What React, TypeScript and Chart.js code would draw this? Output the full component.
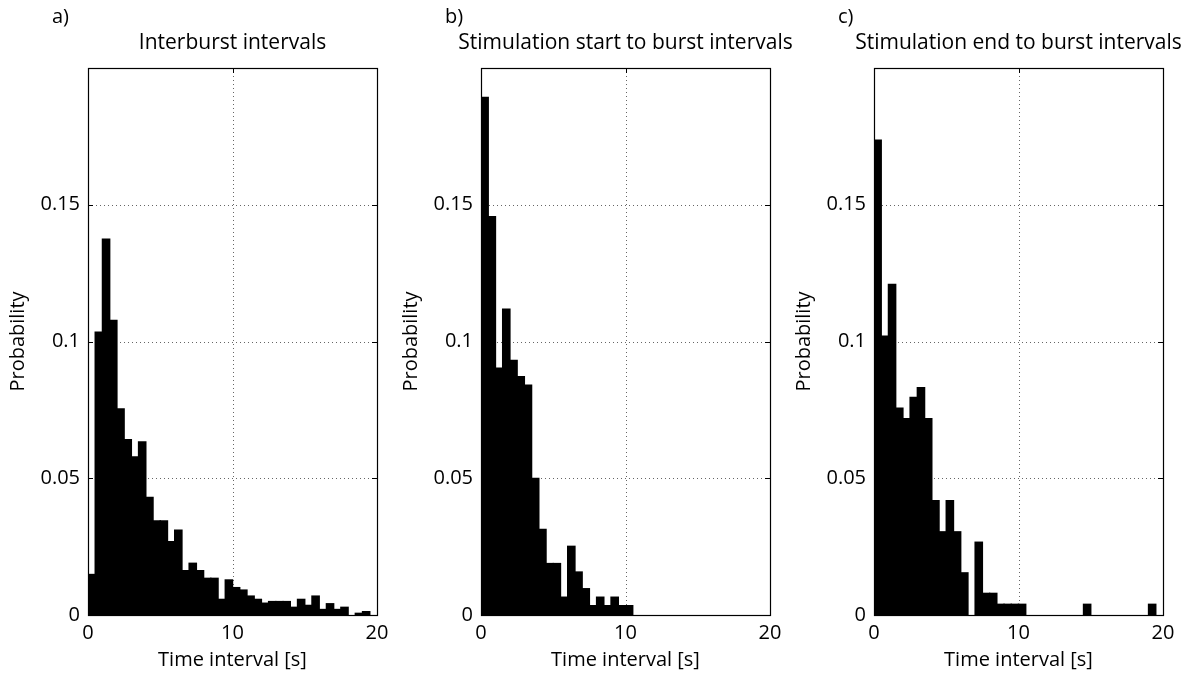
import React, { useEffect, useRef } from "react";
import { Chart, registerables } from "chart.js";

Chart.register(...registerables);

const binCenters = [
  0.25, 0.75, 1.25, 1.75, 2.25, 2.75, 3.25, 3.75, 4.25, 4.75,
  5.25, 5.75, 6.25, 6.75, 7.25, 7.75, 8.25, 8.75, 9.25, 9.75,
  10.25, 10.75, 11.25, 11.75, 12.25, 12.75, 13.25, 13.75, 14.25, 14.75,
  15.25, 15.75, 16.25, 16.75, 17.25, 17.75, 18.25, 18.75, 19.25, 19.75,
];

const interburst = [
  0.0148, 0.1034, 0.1374, 0.1077, 0.0753, 0.0641, 0.0578, 0.0633, 0.043, 0.0344,
  0.0344, 0.0268, 0.031, 0.0162, 0.0189, 0.0162, 0.0134, 0.0134, 0.0057, 0.0128,
  0.01, 0.0091, 0.0069, 0.0057, 0.0043, 0.0049, 0.0049, 0.0049, 0.0028, 0.0057,
  0.0035, 0.0069, 0.002, 0.0041, 0.002, 0.0028, 0, 0.0006, 0.0012, 0,
];

const stimStart = [
  0.1892, 0.1456, 0.0902, 0.1118, 0.0931, 0.0871, 0.084, 0.0499, 0.0313, 0.0188,
  0.0188, 0.0065, 0.0251, 0.0157, 0.0096, 0.0034, 0.0065, 0.0034, 0.0065, 0.0034,
  0.0034, 0, 0, 0, 0, 0, 0, 0, 0, 0,
  0, 0, 0, 0, 0, 0, 0, 0, 0, 0,
];

const stimEnd = [
  0.1736, 0.1019, 0.1209, 0.0756, 0.0718, 0.0795, 0.0831, 0.0718, 0.0418, 0.0304,
  0.0418, 0.0304, 0.0154, 0, 0.0266, 0.0079, 0.0079, 0.0039, 0.0039, 0.0039,
  0.0039, 0, 0, 0, 0, 0, 0, 0, 0, 0.0039,
  0, 0, 0, 0, 0, 0, 0, 0, 0.0039, 0,
];

const xTicks = [0, 10, 20];
const yTicks = [0, 0.05, 0.1, 0.15];
const xGrid = [10];
const yGrid = [0.05, 0.1, 0.15];

const panelLetters = ["a)", "b)", "c)"];
const panelTitles = [
  "Interburst intervals",
  "Stimulation start to burst intervals",
  "Stimulation end to burst intervals",
];
const panelData = [interburst, stimStart, stimEnd];

const FONT = '"Open Sans", "DejaVu Sans", sans-serif';
const CANVAS_W = 414;
const PANEL_STEP = 393;

const decorPlugin = {
  id: "decor",
  beforeDatasetsDraw(chart: any) {
    const { ctx, chartArea } = chart;
    const { left, right, top, bottom } = chartArea;
    const xs = chart.scales.x;
    const ys = chart.scales.y;
    ctx.save();
    ctx.strokeStyle = "#666";
    ctx.lineWidth = 1;
    ctx.setLineDash([1, 3]);
    for (const v of yGrid) {
      const y = Math.round(ys.getPixelForValue(v)) + 0.5;
      ctx.beginPath();
      ctx.moveTo(left, y);
      ctx.lineTo(right, y);
      ctx.stroke();
    }
    for (const v of xGrid) {
      const x = Math.round(xs.getPixelForValue(v)) + 0.5;
      ctx.beginPath();
      ctx.moveTo(x, top);
      ctx.lineTo(x, bottom);
      ctx.stroke();
    }
    ctx.restore();
  },
  afterDraw(chart: any, _args: any, opts: any) {
    const { ctx, chartArea } = chart;
    const { left, right, top, bottom } = chartArea;
    const xs = chart.scales.x;
    const ys = chart.scales.y;
    ctx.save();
    ctx.strokeStyle = "#000";
    ctx.lineWidth = 1.2;
    ctx.setLineDash([]);
    ctx.strokeRect(Math.round(left) + 0.5, Math.round(top) + 0.5, Math.round(right - left), Math.round(bottom - top));
    // inward tick marks
    ctx.lineWidth = 1;
    const tl = 5;
    for (const v of yGrid) {
      const y = Math.round(ys.getPixelForValue(v)) + 0.5;
      ctx.beginPath();
      ctx.moveTo(left, y);
      ctx.lineTo(left + tl, y);
      ctx.moveTo(right, y);
      ctx.lineTo(right - tl, y);
      ctx.stroke();
    }
    for (const v of xGrid) {
      const x = Math.round(xs.getPixelForValue(v)) + 0.5;
      ctx.beginPath();
      ctx.moveTo(x, top);
      ctx.lineTo(x, top + tl);
      ctx.moveTo(x, bottom);
      ctx.lineTo(x, bottom - tl);
      ctx.stroke();
    }
    ctx.fillStyle = "#000";
    ctx.textBaseline = "middle";
    ctx.textAlign = "center";
    ctx.font = `21px ${FONT}`;
    ctx.fillText(opts.title, (left + right) / 2, 43);
    ctx.textAlign = "left";
    ctx.font = `20px ${FONT}`;
    ctx.fillText(opts.letter, left - 36, 17);
    ctx.restore();
  },
};

function Panel({ index }: { index: number }) {
  const ref = useRef<HTMLCanvasElement | null>(null);
  useEffect(() => {
    if (!ref.current) return;
    const values = panelData[index];
    const chart = new Chart(ref.current, {
      type: "bar",
      data: {
        datasets: [
          {
            data: binCenters.map((x, i) => ({ x, y: values[i] === 0 ? null : values[i] })),
            backgroundColor: "#000",
            borderWidth: 0,
            barPercentage: 1,
            categoryPercentage: 1,
            inflateAmount: 0.7,
          },
        ],
      },
      plugins: [decorPlugin],
      options: {
        animation: false,
        responsive: false,
        maintainAspectRatio: false,
        events: [],
        layout: { padding: { top: 68, right: CANVAS_W - 377, left: 0, bottom: 0 } },
        plugins: {
          legend: { display: false },
          tooltip: { enabled: false },
          title: { display: false },
          decor: { title: panelTitles[index], letter: panelLetters[index] },
        } as any,
        scales: {
          x: {
            type: "linear",
            min: 0,
            max: 20,
            offset: false,
            afterBuildTicks: (s: any) => {
              s.ticks = xTicks.map((v) => ({ value: v }));
            },
            ticks: {
              color: "#000",
              font: { family: FONT, size: 20 },
              padding: 6,
              maxRotation: 0,
              autoSkip: false,
              callback: (v: any) => String(v),
            },
            grid: { display: false, drawTicks: false },
            border: { display: false },
            title: {
              display: true,
              text: "Time interval [s]",
              color: "#000",
              font: { family: FONT, size: 20 },
              padding: { top: 0, bottom: 4 },
            },
            afterFit: (s: any) => {
              s.height = 61;
            },
          },
          y: {
            type: "linear",
            min: 0,
            max: 0.2,
            afterBuildTicks: (s: any) => {
              s.ticks = yTicks.map((v) => ({ value: v }));
            },
            ticks: {
              color: "#000",
              font: { family: FONT, size: 20 },
              padding: 8,
              autoSkip: false,
              callback: (v: any) => String(Number(Number(v).toFixed(2))),
            },
            grid: { display: false, drawTicks: false },
            border: { display: false },
            title: {
              display: true,
              text: "Probability",
              color: "#000",
              font: { family: FONT, size: 20 },
              padding: { top: 6, bottom: 0 },
            },
            afterFit: (s: any) => {
              s.width = 88;
            },
          },
        },
      } as any,
    });
    return () => chart.destroy();
  }, [index]);
  return (
    <canvas
      ref={ref}
      width={CANVAS_W}
      height={676}
      style={{ position: "absolute", top: 0, left: index * PANEL_STEP, width: CANVAS_W, height: 676 }}
    />
  );
}

export default function App() {
  return (
    <div style={{ position: "absolute", top: 0, left: 0, width: 1200, height: 676, background: "#fff", overflow: "hidden" }}>
      <Panel index={0} />
      <Panel index={1} />
      <Panel index={2} />
    </div>
  );
}
